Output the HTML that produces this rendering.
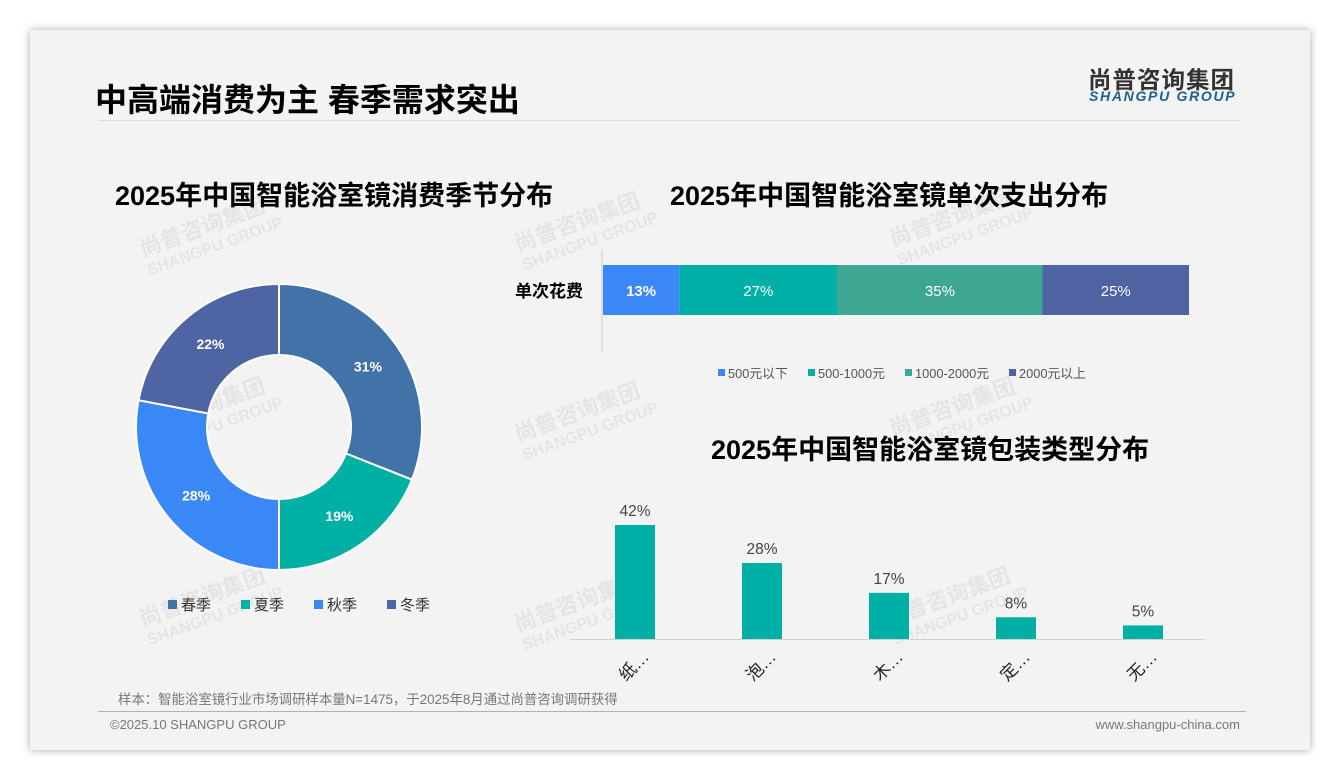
<!DOCTYPE html>
<html><head><meta charset="utf-8">
<style>
body{margin:0;width:1340px;height:780px;background:#fff;font-family:"Liberation Sans","Noto Sans CJK SC",sans-serif;position:relative;overflow:hidden}
.card{position:absolute;left:30px;top:30px;width:1280px;height:720px;background:#f3f3f3;box-shadow:0 0 8px rgba(0,0,0,.35)}
.t{position:absolute;white-space:nowrap}
.wm{position:absolute;color:rgba(0,0,0,.06);font-weight:bold;transform:rotate(-20deg);font-size:22px;line-height:20px}
</style></head><body>
<div class="card"></div>
<div class="t" style="left:95px;top:75px;font-size:32px;font-weight:bold;color:#000">中高端消费为主 春季需求突出</div>
<div style="position:absolute;left:98px;top:120px;width:1142px;height:1px;background:#ddd"></div>
<div class="t" style="left:1088px;top:61px;font-size:23.5px;font-weight:bold;color:#333;letter-spacing:1px">尚普咨询集团</div>
<div class="t" style="left:1089px;top:88px;font-size:14px;font-weight:bold;font-style:italic;color:#1f5f8f;letter-spacing:1.7px">SHANGPU GROUP</div>
<div class="t" style="left:115px;top:174px;font-size:27px;font-weight:bold">2025年中国智能浴室镜消费季节分布</div>
<div class="t" style="left:670px;top:174px;font-size:27px;font-weight:bold">2025年中国智能浴室镜单次支出分布</div>
<div class="t" style="left:711px;top:428px;font-size:27px;font-weight:bold">2025年中国智能浴室镜包装类型分布</div>
<div class="wm" style="left:140px;top:215px">尚普咨询集团<br><span style="font-size:16px">SHANGPU GROUP</span></div>
<div class="wm" style="left:515px;top:210px">尚普咨询集团<br><span style="font-size:16px">SHANGPU GROUP</span></div>
<div class="wm" style="left:890px;top:205px">尚普咨询集团<br><span style="font-size:16px">SHANGPU GROUP</span></div>
<div class="wm" style="left:140px;top:395px">尚普咨询集团<br><span style="font-size:16px">SHANGPU GROUP</span></div>
<div class="wm" style="left:515px;top:400px">尚普咨询集团<br><span style="font-size:16px">SHANGPU GROUP</span></div>
<div class="wm" style="left:890px;top:395px">尚普咨询集团<br><span style="font-size:16px">SHANGPU GROUP</span></div>
<div class="wm" style="left:140px;top:585px">尚普咨询集团<br><span style="font-size:16px">SHANGPU GROUP</span></div>
<div class="wm" style="left:515px;top:590px">尚普咨询集团<br><span style="font-size:16px">SHANGPU GROUP</span></div>
<div class="wm" style="left:885px;top:585px">尚普咨询集团<br><span style="font-size:16px">SHANGPU GROUP</span></div>
<svg id="chart" width="1340" height="780" style="position:absolute;left:0;top:0"></svg>
<div class="t" style="left:118px;top:688px;font-size:13.4px;color:#777">样本：智能浴室镜行业市场调研样本量N=1475，于2025年8月通过尚普咨询调研获得</div>
<div style="position:absolute;left:98px;top:711px;width:1148px;height:1px;background:#9fb6cc"></div>
<div class="t" style="left:110px;top:717px;font-size:13px;color:#777">©2025.10 SHANGPU GROUP</div>
<div class="t" style="right:100px;top:717px;font-size:13px;color:#777">www.shangpu-china.com</div>
<script>
const seasons=['春季','夏季','秋季','冬季'];
const seasonVals=[31,19,28,22];
const seasonColors=['#4173a8','#00b0a4','#3a87f6','#4f64a2'];
const spendCats=['500元以下','500-1000元','1000-2000元','2000元以上'];
const spendVals=[13,27,35,25];
const spendColors=['#3a87f6','#00b0a6','#3fa693','#4f63a3'];
const packCats=['纸…','泡…','木…','定…','无…'];
const packVals=[42,28,17,8,5];
const NS='http://www.w3.org/2000/svg';
const svg=document.getElementById('chart');
function mk(tag,attrs,parent){const e=document.createElementNS(NS,tag);for(const k in attrs)e.setAttribute(k,attrs[k]);(parent||svg).appendChild(e);return e;}
function txt(x,y,s,attrs){const e=mk('text',Object.assign({x:x,y:y,'font-family':'Liberation Sans, Noto Sans CJK SC, sans-serif'},attrs));e.textContent=s;return e;}
// donut
const cx=279,cy=427,R=143,r=72;
let total=seasonVals.reduce((a,b)=>a+b,0),acc=0;
seasonVals.forEach((v,i)=>{
 const a0=acc/total*2*Math.PI,a1=(acc+v)/total*2*Math.PI;acc+=v;
 const p=(a,rr)=>[cx+rr*Math.sin(a),cy-rr*Math.cos(a)];
 const [x0,y0]=p(a0,R),[x1,y1]=p(a1,R),[x2,y2]=p(a1,r),[x3,y3]=p(a0,r);
 const lg=(a1-a0)>Math.PI?1:0;
 const s=mk('path',{d:`M${x0},${y0}A${R},${R} 0 ${lg} 1 ${x1},${y1}L${x2},${y2}A${r},${r} 0 ${lg} 0 ${x3},${y3}Z`,fill:seasonColors[i],stroke:'#fff','stroke-width':2});
 
 
 const am=(a0+a1)/2,[lx,ly]=p(am,(R+r)/2);
 const l=txt(lx,ly+5,v+'%',{'text-anchor':'middle','font-size':14,'font-weight':'bold',fill:'#fff'});
 
 
});
seasons.forEach((s,i)=>{
 const x=168+i*73;
 const m=mk('rect',{x:x,y:600,width:9,height:9,fill:seasonColors[i]});
 
 
 const t=txt(x+13,610,s,{'font-size':15,fill:'#333'});
 
 
});
// stacked bar
const sx0=603,sw=586,sy=265,sh=50;
mk('line',{x1:602,y1:250,x2:602,y2:352,stroke:'#ccc'});
const yl=txt(583,297,'单次花费',{'text-anchor':'end','font-size':17,'font-weight':'bold'});


let sacc=0;const stot=spendVals.reduce((a,b)=>a+b,0);
spendVals.forEach((v,i)=>{
 const x=sx0+sacc/stot*sw,w=v/stot*sw;sacc+=v;
 const b=mk('rect',{x:x,y:sy,width:w,height:sh,fill:spendColors[i]});
 
 
 const t=txt(x+w/2,sy+31,v+'%',{'text-anchor':'middle','font-size':15,fill:'#fff','font-weight':i==0?'bold':'normal'});
 
 
});
const lgx=[718,808,905,1009];
spendCats.forEach((c,i)=>{
 const m=mk('rect',{x:lgx[i],y:369,width:7,height:7,fill:spendColors[i]});
 
 
 const t=txt(lgx[i]+10,378,c,{'font-size':12.8,fill:'#555'});
 
 
});
// bar chart
const base=639,pxPer=2.714,bw=40;
const xc=i=>635+i*127;
mk('line',{x1:570,y1:base+0.5,x2:1205,y2:base+0.5,stroke:'#d0d0d0'});
packVals.forEach((v,i)=>{
 const h=v*pxPer;
 const b=mk('rect',{x:xc(i)-bw/2,y:base-h,width:bw,height:h,fill:'#00b0a6'});
 
 
 const t=txt(xc(i),base-h-9,v+'%',{'text-anchor':'middle','font-size':15.5,fill:'#444'});
 
 
 const c=txt(xc(i)+15,658,packCats[i],{'text-anchor':'end','font-size':17,fill:'#222',transform:`rotate(-45 ${xc(i)+15} 658)`});
 
 
});
</script>
</body></html>
